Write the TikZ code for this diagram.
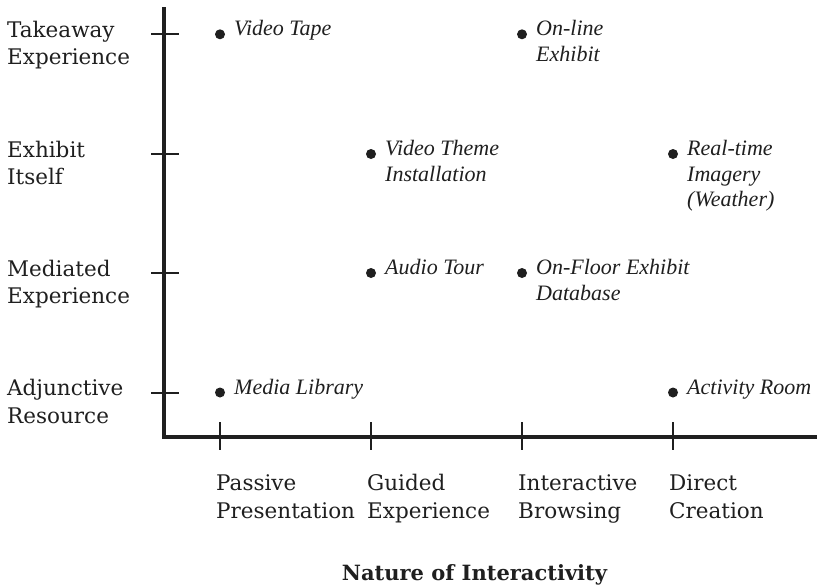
\documentclass[tikz,border=0pt]{standalone}
\usepackage{fontspec}
\setmainfont{DejaVu Serif}
\newfontfamily\itemfont{Liberation Serif}
% lines stacked so that the box's baseline is the one of its first line
\newcommand\stacklines[1]{\begin{tabular}[t]{@{}l@{}}#1\end{tabular}}
\begin{document}
\begin{tikzpicture}[x=1pt,y=-1pt,
  ink/.style={color=black!88},
  axis/.style={ink, line width=3.3pt, line join=miter},
  tickmark/.style={ink, line width=2pt},
  firstbase/.style={anchor=base west, inner sep=0pt},
  rowlabel/.style={ink, firstbase, font=\fontsize{21.5}{27.5}\selectfont},
  collabel/.style={ink, firstbase, font=\fontsize{21.5}{28}\selectfont},
  dot/.style={circle, fill=black!88, minimum size=10pt, inner sep=0pt},
  item/.style={ink, firstbase, font=\itemfont\itshape\fontsize{22}{25.5}\selectfont},
  axistitle/.style={ink, anchor=base, inner sep=0pt,
    font=\fontsize{21}{27}\selectfont\bfseries},
]
\useasboundingbox (0,0) rectangle (820,587);

% axes
\coordinate (top) at (164,7);
\coordinate (corner) at (164,437);
\coordinate (right) at (817,437);
\draw[axis] (top) -- (corner) -- (right);

% row ticks (kind of resource)
\foreach \name/\y in {takeaway/34.3, itself/154, mediated/273, adjunct/392.5}{
  \coordinate (\name-l) at (151,\y);
  \coordinate (\name-r) at (179,\y);
  \draw[tickmark] (\name-l) -- (\name-r);
}
% column ticks (nature of interactivity)
\foreach \name/\x in {passive/220, guided/371, browse/522, create/673}{
  \coordinate (\name-t) at (\x,422);
  \coordinate (\name-b) at (\x,450);
  \draw[tickmark] (\name-t) -- (\name-b);
}

% row labels
\node[rowlabel] (lab-takeaway) at (7,37.3) {\stacklines{Takeaway\\Experience}};
\node[rowlabel] (lab-itself)   at (7,157) {\stacklines{Exhibit\\Itself}};
\node[rowlabel] (lab-mediated) at (7,276) {\stacklines{Mediated\\Experience}};
\node[rowlabel] (lab-adjunct)  at (7,395.5) {\stacklines{Adjunctive\\Resource}};

% column labels
\node[collabel] (lab-passive) at (216,490) {\stacklines{Passive\\Presentation}};
\node[collabel] (lab-guided)  at (367,490) {\stacklines{Guided\\Experience}};
\node[collabel] (lab-browse)  at (518,490) {\stacklines{Interactive\\Browsing}};
\node[collabel] (lab-create)  at (669,490) {\stacklines{Direct\\Creation}};

\node[axistitle] (title) at (474.5,580.7) {Nature of Interactivity};

% plotted media
\foreach \name/\x/\y/\txt in {
  tape/220/34.3/{Video Tape},
  online/522/34.3/{On-line\\Exhibit},
  theme/371/154/{Video Theme\\Installation},
  realtime/673/154/{Real-time\\Imagery\\(Weather)},
  audio/371/273/{Audio Tour},
  floor/522/273/{On-Floor Exhibit\\Database},
  library/220/392.5/{Media Library},
  activity/673/392.5/{Activity Room}}{
  \node[dot] (\name-dot) at (\x,\y) {};
  \node[item] (\name) at (\x+14,\y+1.5) {\stacklines{\txt}};
}
\end{tikzpicture}
\end{document}
